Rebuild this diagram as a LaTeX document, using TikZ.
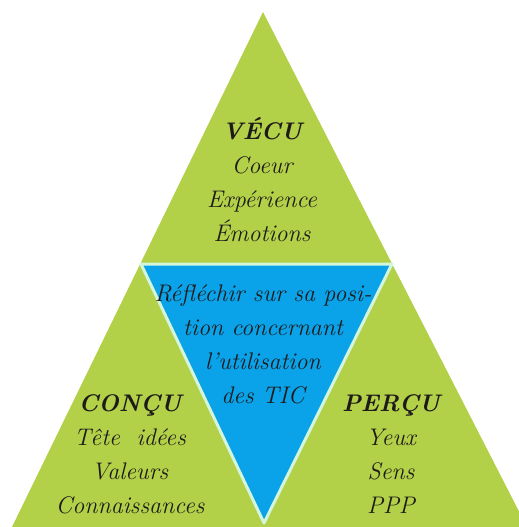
\documentclass[tikz,border=0pt]{standalone}
\usepackage{fontspec}
\definecolor{vert}{RGB}{178,208,72}
\definecolor{bleu}{RGB}{10,162,232}
\definecolor{liseret}{RGB}{210,245,220}
\definecolor{encre}{RGB}{30,26,26}
\begin{document}
\begin{tikzpicture}[x=0.5pt,y=-0.5pt,line join=round,font=\itshape\fontsize{12}{17}\selectfont,text=encre]
	\def\h{527}
	\useasboundingbox (0,0) rectangle (519,\h);
	\path
	(263,12) coordinate (A)
	(12,\h) coordinate (B)
	(527,\h) coordinate (C)
	(141,264) coordinate (M_1)
	(392,264) coordinate (M_2)
	(264,523) coordinate (M_3)
	;
	\clip (0,0) rectangle (519,\h);
	\fill[vert] (A)--(B)--(C)--cycle;
	\draw[fill=bleu,draw=liseret,line width=1.5pt] (M_1)--(M_2)--(M_3)--cycle;
	\node[align=center] (vecu) at (262,180) {\textbf{VÉCU}\\Coeur\\Expérience\\Émotions};
	\node[align=center] (reflechir) at (263,344) {Réfléchir sur sa posi-\\tion concernant\\l’utilisation\\des TIC};
	\node[align=center] (concu) at (130,454) {\textbf{CONÇU}\\Tête~~idées\\Valeurs\\Connaissances};
	\node[align=center] (percu) at (391,454) {\textbf{PERÇU}\\Yeux\\Sens\\PPP};
\end{tikzpicture}
\end{document}
